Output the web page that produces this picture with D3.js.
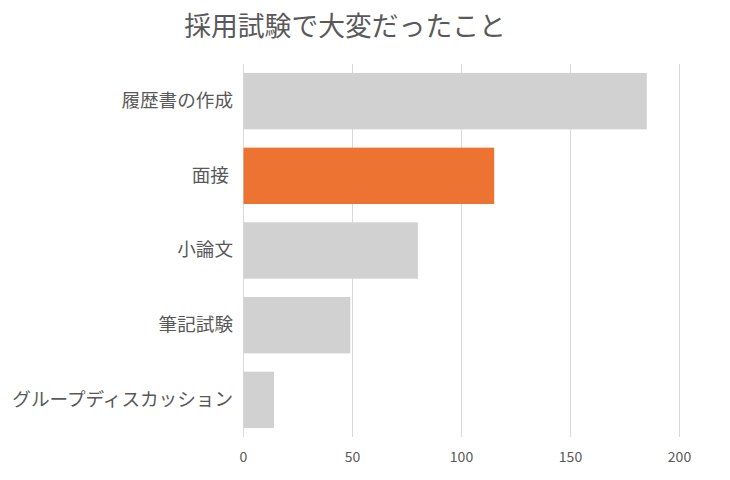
<!DOCTYPE html>
<html>
<head>
<meta charset="utf-8">
<script src="https://cdn.jsdelivr.net/npm/d3@7"></script>
<style>
  body { margin: 0; background: #fff; }
  text { font-family: "Noto Sans CJK JP", "Noto Sans", sans-serif; fill: #595959; }
</style>
</head>
<body>
<div id="chart"></div>
<script>
// data
const categories = ["履歴書の作成", "面接 ", "小論文", "筆記試験", "グループディスカッション"];
const values = [185, 115, 80, 49, 14];
const highlight = "面接 ";
const xTicks = [0, 50, 100, 150, 200];
const title = "採用試験で大変だったこと";

const W = 730, H = 480;
const margin = {top: 64, right: 52, bottom: 43, left: 243};
const width = W - margin.left - margin.right,
    height = H - margin.top - margin.bottom;

const svg = d3.select("#chart").append("svg")
    .attr("width", W)
    .attr("height", H);

// title
svg.append("text")
    .attr("x", 345)
    .attr("y", 24)
    .attr("text-anchor", "middle")
    .attr("dominant-baseline", "central")
    .style("font-size", "26.8px")
    .text(title);

const g = svg.append("g")
    .attr("transform", `translate(${margin.left},${margin.top})`);

const x = d3.scaleLinear().domain([0, 200]).range([0, 436]);
const y = d3.scaleBand().domain(categories).range([0, height]).paddingInner(0.245).paddingOuter(0.12);

// gridlines
g.append("g")
    .selectAll("line")
    .data(xTicks)
    .join("line")
    .attr("x1", d => Math.round(x(d)) + 0.5)
    .attr("x2", d => Math.round(x(d)) + 0.5)
    .attr("y1", 0)
    .attr("y2", height)
    .attr("stroke", "#d9d9d9")
    .attr("stroke-width", 1);

// bars
g.append("g")
    .selectAll("rect")
    .data(categories)
    .join("rect")
    .attr("x", 0.5)
    .attr("y", d => y(d))
    .attr("height", y.bandwidth())
    .attr("width", (d, i) => x(values[i]))
    .attr("fill", d => d === highlight ? "#ed7332" : "#d1d1d1");

// category labels
const yAxis = g.append("g")
    .call(d3.axisLeft(y).tickSize(0).tickPadding(10));
yAxis.select(".domain").remove();
yAxis.selectAll("text")
    .style("font-size", "18.6px")
    .style("white-space", "pre")
    .attr("fill", "#595959");

// x axis labels
const xAxis = g.append("g")
    .attr("transform", `translate(0,${height})`)
    .call(d3.axisBottom(x).tickValues(xTicks).tickSize(0).tickPadding(15));
xAxis.select(".domain").remove();
xAxis.selectAll("text")
    .style("font-size", "14px")
    .attr("fill", "#595959");
</script>
</body>
</html>
